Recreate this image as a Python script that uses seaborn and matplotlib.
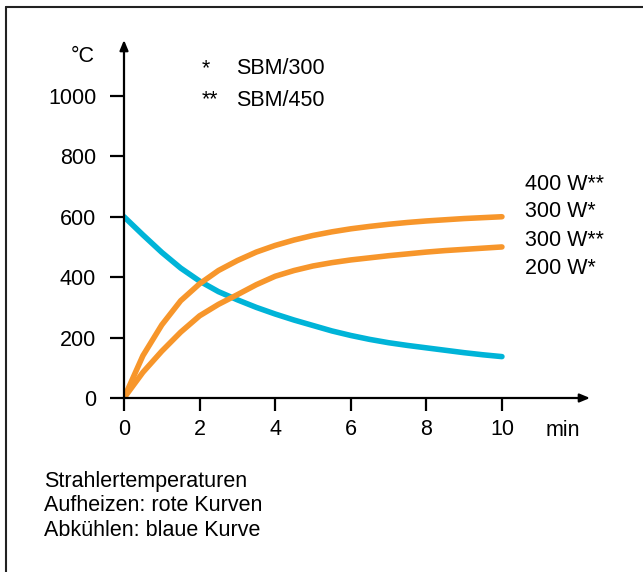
from matplotlib import pyplot as plt
import pandas as pd
import seaborn as sns

# Values
minutes = [0, 0.5, 1, 1.5, 2, 2.5, 3, 3.5, 4, 4.5, 5, 5.5, 6, 6.5, 7, 7.5, 8, 8.5, 9, 9.5, 10]
heat_high = [0, 140, 242, 322, 378, 422, 455, 483, 505, 523, 538, 550, 560, 568, 575, 581, 586, 590, 594, 597, 600]
heat_low = [0, 85, 155, 218, 272, 310, 342, 375, 403, 422, 437, 448, 457, 464, 471, 477, 483, 488, 492, 496, 500]
cool = [600, 540, 482, 430, 387, 352, 325, 300, 278, 258, 240, 222, 207, 194, 183, 174, 166, 158, 150, 143, 137]

x_ticks = [0, 2, 4, 6, 8, 10]
y_ticks = [0, 200, 400, 600, 800, 1000]
power_labels = ['400 W**', '300 W*', '300 W**', '200 W*']
model_marks = ['*', '**']
model_names = ['SBM/300', 'SBM/450']
notes = ['Strahlertemperaturen', 'Aufheizen: rote Kurven', 'Abkühlen: blaue Kurve']

df = pd.DataFrame({'min': minutes, 'high': heat_high, 'low': heat_low, 'cool': cool})

sns.set_style('white')
plt.rcParams['font.family'] = ['Liberation Sans', 'DejaVu Sans']
plt.rcParams['text.color'] = 'black'
plt.rcParams['xtick.color'] = 'black'
plt.rcParams['ytick.color'] = 'black'

orange = '#F7962B'
blue = '#00B4D8'
fs = 15.5

fig = plt.figure(figsize=(6.43, 5.72), dpi=100)
ax = fig.add_axes([124 / 643, 1 - 398 / 572, (590 - 124) / 643, (398 - 40) / 572])

for col, color in [('cool', blue), ('high', orange), ('low', orange)]:
    sns.lineplot(data=df, x='min', y=col, ax=ax, color=color, linewidth=4,
                 estimator=None, solid_capstyle='round', solid_joinstyle='round')

ax.set_xlim(0, 12.33)
ax.set_ylim(0, 1185)
ax.set_xticks(x_ticks)
ax.set_yticks(y_ticks)
ax.set_xlabel('')
ax.set_ylabel('')
for s in ax.spines.values():
    s.set_visible(False)
ax.tick_params(axis='y', direction='out', length=10, width=1.6, pad=10, labelsize=fs, left=True)
ax.tick_params(axis='x', direction='out', length=9, width=1.6, pad=6, labelsize=fs, bottom=True)

# axes with arrow heads
arrow = dict(arrowstyle='-|>,head_length=0.6,head_width=0.25', color='black', lw=1.6,
             shrinkA=0, shrinkB=0)
ax.annotate('', xy=(1.0, 0), xytext=(0, 0), xycoords='axes fraction', arrowprops=arrow,
            annotation_clip=False)
ax.annotate('', xy=(0, 1.0), xytext=(0, 0), xycoords='axes fraction', arrowprops=arrow,
            annotation_clip=False)

fig.text(95 / 643, 1 - 57 / 572, '°C', ha='right', va='center', fontsize=fs)
fig.text(546 / 643, 1 - 430 / 572, 'min', ha='left', va='center', fontsize=fs)

# model key
for i, (m, n) in enumerate(zip(model_marks, model_names)):
    yy = 1 - (69 + 31 * i) / 572
    fig.text(202 / 643, yy, m, ha='left', va='center', fontsize=fs)
    fig.text(236 / 643, yy, n, ha='left', va='center', fontsize=fs)

# power labels on the right
for lab, yp in zip(power_labels, [184, 211, 240, 268]):
    fig.text(525 / 643, 1 - yp / 572, lab, ha='left', va='center', fontsize=fs)

for i, t in enumerate(notes):
    fig.text(44 / 643, 1 - (481 + 24.5 * i) / 572, t, ha='left', va='center', fontsize=fs)

# frame lines (left and top)
fig.add_artist(plt.Line2D([6 / 643, 6 / 643], [0, 1 - 7 / 572], transform=fig.transFigure,
                          color='#222222', lw=1.5))
fig.add_artist(plt.Line2D([6 / 643, 1], [1 - 7 / 572, 1 - 7 / 572], transform=fig.transFigure,
                          color='#222222', lw=1.5))

fig.savefig('out.png', dpi=100)
